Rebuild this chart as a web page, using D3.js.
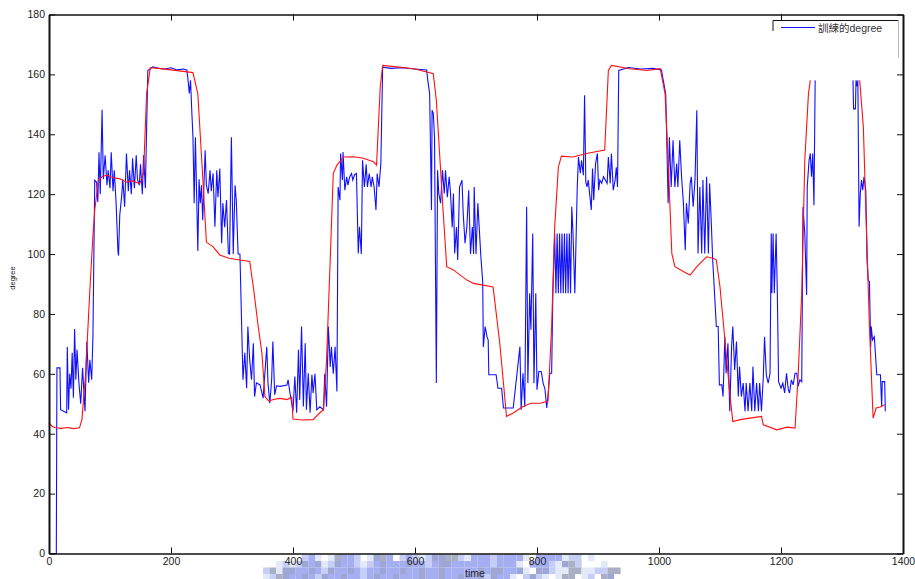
<!DOCTYPE html>
<html>
<head>
<meta charset="utf-8">
<script src="https://cdn.jsdelivr.net/npm/d3@7"></script>
<style>
  body { margin: 0; background: #fff; }
  svg text { font-family: "Liberation Sans", Arial, "Noto Sans CJK TC", sans-serif; }
</style>
</head>
<body>
<svg id="chart" width="915" height="579"></svg>
<script>
// tick labels
let xTicks = [0, 200, 400, 600, 800, 1000, 1200, 1400]
let yTicks = [0, 20, 40, 60, 80, 100, 120, 140, 160, 180]

// red series (time, degree); null = hidden part near the top right
let redTime = [0,5,10,20,30,40,50,54,60,67,72,75,81,88,95,105,115,127,135,145,149,155,160,166,180,200,220,236,244,252,258,269,280,295,313,329,335,343,349,354,360,370,379,390,398,400,415,433,444,450,455,461,466,472,483,500,515,532,537,543,547,570,600,630,635,641,646,652,663,685,696,728,739,750,761,777,790,805,818,824,829,835,840,859,881,911,917,922,952,980,1002,1010,1015,1021,1026,1045,1051,1062,1078,1089,1094,1100,1106,1111,1116,1121,1135,1149,1168,1171,1193,1210,1223,1228,1234,1239,1245,1248,1290,1329,1335,1340,1345,1351,1356,1363,1370]
let redDeg = [43.5,42.5,42,41.8,42.1,41.7,42,44.7,60,88,106,114.7,124.7,126,126.3,125.5,125.2,124,124.5,123.8,123.6,127,153.5,162.2,162,161.5,161,160.6,153.5,125.8,104,102.4,99.7,98.6,98,97.5,89,75.8,67,52.4,51,51.5,51.8,51.4,52.2,44.9,44.6,44.7,47,48,64.7,98,126.9,129.7,132.4,132.5,132,130.8,129.7,155.8,163,162.5,161.8,160.2,151.3,131.3,114.7,95.8,94.7,91.3,90.2,89,70.2,45.8,46.9,49.1,50.2,50.2,50.8,75.8,109,129,132.7,132.4,133.6,134.7,161.3,163,161.9,161.3,161.9,153.5,131.3,100.2,95.8,93.6,93,95.8,99.1,98.6,98,89,75.8,64.7,53.6,44.1,44.8,45.2,45.8,43,41.3,42.2,41.9,59,86.9,131.3,153.5,158,null,158,142.4,109,75.8,45.2,48.6,48.9,49.7]

// blue series: 訓練的degree
let blueTime = [0,12,13,18,19,29,30,32,34,36,38,40,42,44,46,49,52,55,59,62,65,67,70,72,75,78,80,82,84,87,89,92,95,97,100,102,105,107,110,113,114,116,119,121,124,127,130,132,135,137,140,143,145,148,150,153,155,158,162,170,180,190,200,210,220,226,228,230,232,234,236,238,240,244,246,248,250,252,256,258,261,264,266,269,272,275,277,280,283,285,288,291,294,296,299,302,305,307,310,313,316,318,321,324,326,329,332,335,337,340,346,351,357,359,362,365,367,370,373,379,390,392,395,400,403,406,409,411,414,417,420,422,425,428,431,433,436,439,444,450,452,455,458,461,463,466,469,472,474,477,478,481,482,485,488,490,493,496,498,501,504,507,509,512,514,517,520,522,525,528,530,533,536,538,541,544,547,560,580,600,619,621,624,627,628,630,632,635,637,639,642,645,648,650,653,656,658,661,663,665,668,670,673,677,679,682,685,688,691,694,696,697,700,703,708,711,712,715,718,720,721,733,736,742,745,761,772,774,777,780,783,785,788,790,793,795,798,800,803,807,810,813,816,819,821,824,826,829,831,833,835,837,839,841,843,845,847,849,851,853,855,857,859,862,866,868,871,873,876,878,880,882,884,889,891,893,896,899,901,903,906,909,912,915,917,920,922,925,928,930,932,934,950,970,990,1004,1007,1011,1015,1017,1020,1023,1026,1029,1031,1034,1037,1040,1043,1045,1048,1051,1053,1056,1059,1062,1064,1067,1070,1072,1075,1078,1081,1083,1086,1088,1090,1094,1097,1099,1103,1105,1108,1110,1113,1116,1119,1121,1124,1127,1130,1132,1135,1138,1141,1143,1146,1149,1152,1154,1157,1160,1163,1165,1168,1171,1173,1176,1179,1182,1184,1185,1187,1189,1192,1194,1196,1200,1203,1206,1209,1212,1214,1217,1220,1223,1226,1228,1231,1234,1236,1239,1242,1243,1246,1248,1250,1252,1254,1256,1290,1318,1319,1322,1323,1325,1326,1328,1330,1332,1334,1336,1339,1341,1343,1345,1347,1348,1350,1353,1357,1363,1365,1366,1370,1371]
let blueDeg = [0,0,62,62,48,47,69,48,60,55,67,52,75,58,68,57,50,62,47.5,70.8,57,64.7,58,72.4,124.7,124,117.4,134,120,148.2,125,133,123,128,122,134,121,128,117,101,99.5,113,119,125,115.8,133.6,121,128,120,132,122,133,125,123,130,120,133,122,161.3,162.5,162,161.8,162.2,161.5,161.8,161.5,158,153.6,158,148,139,117,139,101,125,117,123,111.3,134.7,123,120.2,128,121,127,109.1,128,119,128.6,103.6,117,109,118,100.2,100,139,100,123,118,100,100,74.7,58,67,55.2,75.8,64.7,58,70.2,52.4,57,56.3,51.9,69,57,50.2,58,70.8,53,56,55.8,56.3,58,53.6,47.5,59.1,47,68,51.3,75.8,49.1,70.2,48,60.2,47,59.7,53.6,60,48,49,48,60,49,75.8,62.4,69,60,69,54.1,122.4,118,133.6,124.7,134.1,121.3,125.8,123,125.8,126.9,124.7,126.5,126.9,100.2,109.1,100,131.3,122.4,130,122.4,126.9,122.4,125.8,122.4,114.7,126.9,122.4,130.2,162.4,162,162.2,161.8,161.5,158,153.5,114.7,148,147,139,56.9,128,120.2,117,128,120.2,128,119,125.8,121,109,120.2,100.2,109,98,122.4,124.7,113.6,103.6,109,121.3,100,109,100,122.4,100,117,99.1,90.8,69,75.8,72.4,71.3,59.7,59.7,55.2,55.2,48.6,48.6,69,48,60.2,49,115.8,56.9,86.9,74.7,106.9,56.9,86.9,54.7,60.8,60.8,56.9,55,48.6,55,60.2,60.2,86.9,106.9,86.9,106.9,86.9,106.9,86.9,106.9,86.9,106.9,86.9,106.9,86.9,106.9,86.9,115.8,106.9,86.9,122.4,132.4,127,131.3,126.3,153,124,122.4,124.7,114.7,128.6,118,130.2,133.6,121.3,124.7,123.6,125.8,124.7,123.6,132.4,123.6,133.6,121.3,124.7,129,122.4,161.3,162.3,161.8,162,161.5,158,153.5,117,139,122.4,138,122.4,130.2,122.4,138,125.8,117,101.3,117,110.2,123.6,125.8,115.8,124.7,148,100.2,122.4,100.2,124.7,100.2,125.8,100.2,123.6,109.1,98,90.8,75.8,75.8,56.3,56.3,52.4,72.4,60.2,70.2,47.5,69,75.8,61.3,70.8,52.4,62.4,52.4,56.9,47.5,56.9,47.5,56.9,47.5,62.4,47.5,56.9,47.5,56.9,47.5,59,72.4,59.5,56.9,60.2,106.9,86.9,106.9,86.9,106.9,86.9,57.4,55.2,56.9,53.6,60.2,54.7,53.6,58,56.3,60.2,60.2,55.8,58,57.4,115.8,106.9,86.3,122.4,131.3,133.6,125.8,133.6,116.3,158,null,158,148.5,148.5,158,156,158,109.1,120.2,124.7,121.3,125.8,121.3,98,91.3,90.8,69,75.8,71.3,72.4,59.7,59.7,49.1,57.4,57.4,47.5]

// pixel mosaic at the bottom (one string per row)
let mosaicRows = [
  "......cad.dgaac.dbga.cacdcbbggcdaaacaaaad.aaaadcc.d.......",
  "..dcdcbabdcbaacdcabaaabaacabbaaaaaacaaad.aaacdbgc...d.....",
  "cgdbbaabacbaabacaabaabaabaabaaaaababbaabd.bbcddggddccgg...",
  "dcgbaabacbaabaacabaabaaabaabaabaabcbaad.cbcd.dgg.dc.gb...."
]
let mosaicColors = {a: "#a6aef2", b: "#9ea6d6", c: "#c6cef6", d: "#e2eafa", g: "#aab0c4"}

let svg = d3.select("#chart")
const plotLeft = 49, plotRight = 903, plotTop = 14.5, plotBottom = 553.5

let xScale = d3.scaleLinear().domain([0, 1400]).range([plotLeft, plotRight])
let yScale = d3.scaleLinear().domain([0, 180]).range([plotBottom, plotTop])

// mosaic
mosaicRows.forEach((row, r) => {
  for (let i = 0; i < row.length; i++) {
    let c = mosaicColors[row[i]]
    if (!c) continue
    svg.append("rect")
      .attr("x", 263 + i * 6.5).attr("y", 554.5 + r * 6.5)
      .attr("width", 6.6).attr("height", 6.6)
      .attr("fill", c)
  }
})

let redData = redTime.map((t, i) => [t, redDeg[i]])
let blueData = blueTime.map((t, i) => [t, blueDeg[i]])

let line = d3.line()
  .defined(d => d[1] != null)
  .x(d => xScale(d[0]))
  .y(d => yScale(d[1]))

svg.append("path").datum(blueData)
  .attr("d", line).attr("fill", "none")
  .attr("stroke", "#1010ff").attr("stroke-width", 1.1)

svg.append("path").datum(redData)
  .attr("d", line).attr("fill", "none")
  .attr("stroke", "#ff1010").attr("stroke-width", 1.1)

// axes, matlab style ticks pointing inwards
let styleAxis = (g, w) => {
  g.select(".domain").attr("stroke", "#111").attr("stroke-width", w)
  g.selectAll(".tick line").attr("stroke", "#111").attr("stroke-width", 1)
  g.selectAll(".tick text").attr("fill", "#222").style("font-size", "10.5px")
}

svg.append("g").attr("transform", `translate(0,${plotBottom})`)
  .call(d3.axisBottom(xScale).tickValues(xTicks).tickFormat(d3.format("d"))
    .tickSize(-6).tickSizeOuter(0).tickPadding(4))
  .call(g => styleAxis(g, 1.5))

svg.append("g").attr("transform", `translate(0,${plotTop})`)
  .call(d3.axisTop(xScale).tickValues(xTicks).tickSize(-6).tickSizeOuter(0).tickFormat(""))
  .call(g => styleAxis(g, 1.5))

svg.append("g").attr("transform", `translate(${plotLeft},0)`)
  .call(d3.axisLeft(yScale).tickValues(yTicks).tickFormat(d3.format("d"))
    .tickSize(-6).tickSizeOuter(0).tickPadding(4))
  .call(g => styleAxis(g, 2))

svg.append("g").attr("transform", `translate(${plotRight},0)`)
  .call(d3.axisRight(yScale).tickValues(yTicks).tickSize(-6).tickSizeOuter(0).tickFormat(""))
  .call(g => styleAxis(g, 2))

// axis titles
svg.append("text")
  .attr("x", 475).attr("y", 577)
  .attr("text-anchor", "middle")
  .style("font-size", "10.5px").attr("fill", "#222")
  .text("time")

svg.append("text")
  .attr("transform", "translate(15,278) rotate(-90)")
  .attr("text-anchor", "middle")
  .style("font-size", "7.5px").attr("fill", "#222")
  .text("degree")

// legend (cut off at the bottom like the original)
let legend = svg.append("g")
legend.append("path").attr("d", "M773,31V20.5H898.5").attr("fill", "none").attr("stroke", "#111").attr("stroke-width", 1)
legend.append("line").attr("x1", 898.5).attr("x2", 898.5).attr("y1", 20.5).attr("y2", 58)
  .attr("stroke", "#bbb").attr("stroke-width", 1)
legend.append("line").attr("x1", 781).attr("x2", 815).attr("y1", 27.5).attr("y2", 27.5)
  .attr("stroke", "#1010ff").attr("stroke-width", 1.1)
legend.append("text").attr("x", 818).attr("y", 31.5)
  .style("font-size", "10.5px").attr("fill", "#333")
  .text("訓練的degree")
</script>
</body>
</html>
